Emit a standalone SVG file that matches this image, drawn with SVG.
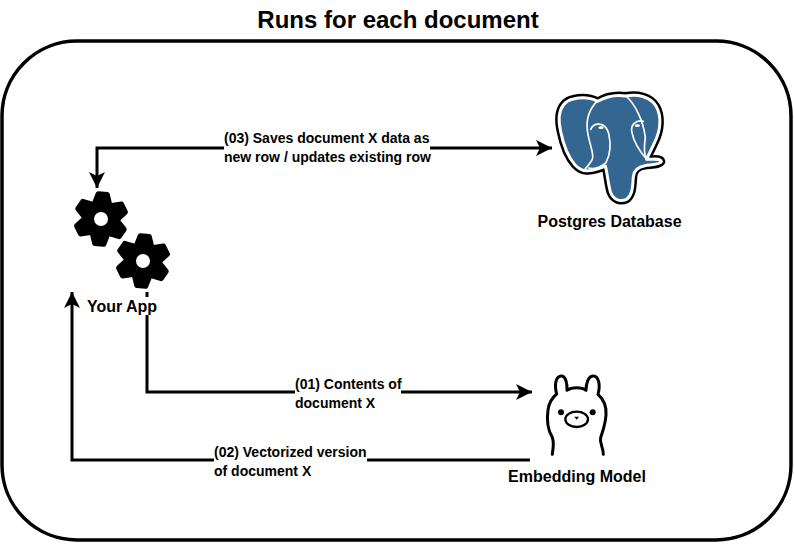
<svg xmlns="http://www.w3.org/2000/svg" width="794" height="549" viewBox="0 0 794 549">
<style>
text{font-family:"Liberation Sans",Arial,sans-serif;font-weight:700;fill:#000}
.l{font-size:14px}
.n{font-size:16px;text-anchor:middle}
.c{fill:none;stroke:#000;stroke-width:3}
.bg{fill:#fff}
.w{fill:none;stroke:#fff;stroke-width:5;stroke-linecap:round;stroke-linejoin:round}
</style>
<defs>
<marker id="a" viewBox="0 0 17 16" refX="16" refY="8" markerWidth="17" markerHeight="16" markerUnits="userSpaceOnUse" orient="auto-start-reverse"><path d="M0 0L16 8L0 16L4 8Z" fill="#000"/></marker>
<path id="t" d="M-8 -14L-4.500 -25L4.500 -25L8 -14Z" fill="#000" stroke="#000" stroke-width="5" stroke-linejoin="round"/>
<g id="gear">
<circle r="18.500" fill="#000"/>
<g transform="rotate(4)">
<use href="#t"/><use href="#t" transform="rotate(60)"/><use href="#t" transform="rotate(120)"/><use href="#t" transform="rotate(180)"/><use href="#t" transform="rotate(240)"/><use href="#t" transform="rotate(300)"/>
</g>
<circle r="7" fill="#fff"/>
</g>
<path id="pg" d="M130 57C160 50 185 55 203 64C230 48 262 44 288 48C320 42 360 48 378 78C396 108 392 150 375 185C365 208 355 225 350 238C370 238 392 234 394 245C390 254 365 254 345 257C325 260 312 268 310 290C308 320 308 345 290 358C268 368 248 357 241 335C233 305 232 280 226 258C212 265 195 272 175 272C160 275 148 268 135 255C115 232 100 195 92 155C85 125 85 95 100 75C108 65 118 59 130 57Z"/>
</defs>
<rect width="794" height="549" fill="#fff"/>
<text x="398" y="28" font-size="24" text-anchor="middle">Runs for each document</text>
<rect id="frame" x="2" y="41" width="789" height="499" rx="75" ry="75" fill="none" stroke="#000" stroke-width="3.500"/>
<g id="connectors">
<path class="c" d="M552 148H97V188" marker-start="url(#a)" marker-end="url(#a)"/>
<path class="c" d="M147 292V392H532" marker-end="url(#a)"/>
<path class="c" d="M530 460H72V292" marker-end="url(#a)"/>
<g id="edge-label-03"><rect class="bg" x="224" y="130" width="206" height="38"/><text class="l" x="224" y="143">(03) Saves document X data as</text><text class="l" x="224" y="162">new row / updates existing row</text></g>
<g id="edge-label-01"><rect class="bg" x="295" y="378" width="106" height="32"/><text class="l" x="295" y="389">(01) Contents of</text><text class="l" x="295" y="408">document X</text></g>
<g id="edge-label-02"><rect class="bg" x="214" y="446" width="153" height="32"/><text class="l" x="214" y="457">(02) Vectorized version</text><text class="l" x="214" y="476">of document X</text></g>
</g>
<g id="your-app">
<use href="#gear" x="101" y="219"/>
<use href="#gear" x="143" y="261"/>
<rect class="bg" x="86" y="297" width="72" height="18"/>
<text class="n" x="122" y="312">Your App</text>
</g>
<g id="postgres">
<g transform="translate(530 80) scale(.3333)">
<use href="#pg" fill="none" stroke="#000" stroke-width="24" stroke-linejoin="round"/>
<use href="#pg" fill="#336791" stroke="#fff" stroke-width="9" stroke-linejoin="round"/>
<path class="w" d="M203 62C180 85 168 115 172 150C176 190 196 225 186 240C180 252 172 258 165 268"/>
<path class="w" d="M182 148C190 128 225 122 236 160C244 195 240 225 228 248C212 262 192 268 176 264"/>
<path class="w" d="M288 48C318 75 340 125 346 172C342 200 340 222 350 238"/>
<path class="w" d="M340 124C318 118 300 135 306 158C312 190 330 215 350 238"/>
<ellipse cx="213" cy="143" rx="8" ry="4" fill="#fff"/>
<ellipse cx="322" cy="137" rx="8" ry="4" fill="#fff"/>
</g>
<text class="n" x="609.500" y="227">Postgres Database</text>
</g>
<g id="ollama">
<g transform="translate(520 365) scale(.3333)">
<path d="M97 268C99 245 104 235 96 215C84 195 80 165 84 135C87 112 98 97 110 87C102 58 108 33 124 33C138 33 142 58 141 76C155 66 185 66 198 76C198 55 205 33 220 33C236 33 242 60 234 88C250 102 260 122 258 150C256 180 248 198 242 218C238 235 250 245 250 268" fill="#fff" stroke="#000" stroke-width="9" stroke-linecap="round" stroke-linejoin="round"/>
<ellipse cx="170" cy="163" rx="34" ry="23" fill="#fff" stroke="#000" stroke-width="7"/>
<circle cx="123" cy="142" r="9" fill="#000"/>
<circle cx="218" cy="142" r="9" fill="#000"/>
<path d="M163 155H177L170 164Z" fill="#000"/>
</g>
<text class="n" x="577" y="482">Embedding Model</text>
</g>
</svg>
